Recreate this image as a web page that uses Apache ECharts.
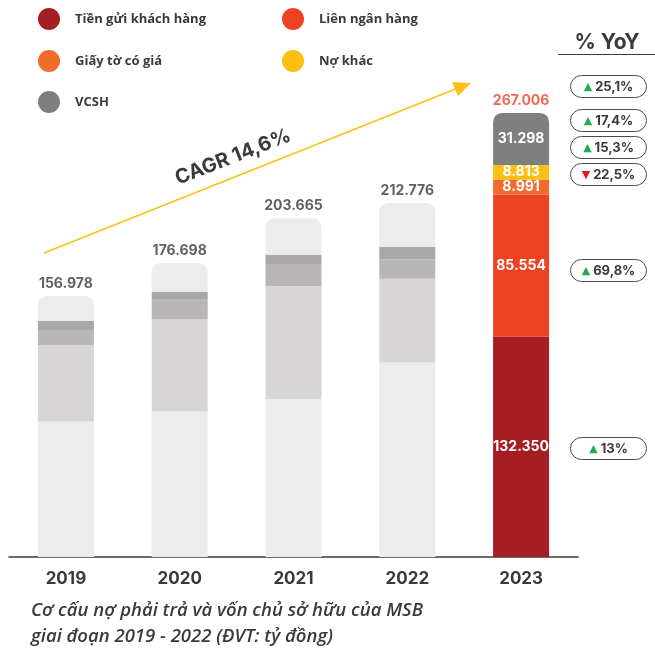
<!DOCTYPE html>
<html>
<head>
<meta charset="utf-8">
<script src="https://cdn.jsdelivr.net/npm/echarts@6/dist/echarts.min.js"></script>
<style>
html, body { margin: 0; padding: 0; background: #fff; }
#chart { width: 655px; height: 655px; }
</style>
</head>
<body>
<div id="chart"></div>
<script>
// du lieu (ty dong)
const years = ['2019', '2020', '2021', '2022', '2023'];
const tienGui = [81400, 87400, 95000, 116900, 132350];
const lienNganHang = [46100, 55700, 68000, 50400, 85554];
const giayTo = [9000, 12000, 13200, 11600, 8991];
const noKhac = [5600, 4400, 5400, 7600, 8813];
const vcsh = [14878, 17198, 22065, 26276, 31298];
const totals = [156978, 176698, 203665, 212776, 267006];
const yoy = [25.1, 17.4, 15.3, -22.5, 69.8, 13];
const cagrText = 'CAGR 14,6%';

const numFont = 'Inter';
const textFont = 'Open Sans';
const dark = '#3a3a3a';
const last = years.length - 1;

const fmt = v => String(v).replace(/\B(?=(\d{3})+(?!\d))/g, '.');
const fmtPct = v => String(Math.abs(v)).replace('.', ',') + '%';

const seriesDefs = [
    { name: 'Tiền gửi khách hàng', data: tienGui, color: '#a51e23', grey: '#ececec' },
    { name: 'Liên ngân hàng', data: lienNganHang, color: '#ee4323', grey: '#d7d5d6' },
    { name: 'Giấy tờ có giá', data: giayTo, color: '#f26b2b', grey: '#b8b6b6' },
    { name: 'Nợ khác', data: noKhac, color: '#fdbf12', grey: '#a9a8a7' },
    { name: 'VCSH', data: vcsh, color: '#7f7f7f', grey: '#ececec' },
];

// legend: 2 cot, 3 hang
const legendPos = [[38, 8], [282, 8], [38, 50], [282, 50], [38, 91]];

const chart = echarts.init(document.getElementById('chart'));

// vi tri khung % YoY
const yoyY = [86, 120, 147, 174, 270, 448];

const graphics = [
    // mui ten CAGR
    {
        type: 'line',
        shape: { x1: 44, y1: 253, x2: 458, y2: 88 },
        style: { stroke: '#fcc01a', lineWidth: 1.6 },
    },
    {
        type: 'polygon',
        shape: { points: [[452, 82], [471, 83], [458, 96]] },
        style: { fill: '#fcc01a' },
    },
    {
        type: 'text',
        x: 233,
        y: 157,
        rotation: (21.3 * Math.PI) / 180,
        style: {
            text: cagrText,
            fontFamily: numFont,
            fontWeight: 'bold',
            fontSize: 20,
            fill: dark,
            align: 'center',
            verticalAlign: 'middle',
        },
    },
    // tieu de % YoY
    {
        type: 'text',
        x: 607,
        y: 43,
        style: {
            text: '% YoY',
            fontFamily: numFont,
            fontWeight: 'bold',
            fontSize: 21,
            fill: dark,
            align: 'center',
            verticalAlign: 'middle',
        },
    },
    {
        type: 'line',
        shape: { x1: 558, y1: 54.5, x2: 655, y2: 54.5 },
        style: { stroke: dark, lineWidth: 1 },
    },
];

yoy.forEach((v, i) => {
    graphics.push({
        type: 'group',
        x: 570,
        y: yoyY[i] - 11,
        children: [
            {
                type: 'rect',
                shape: { x: 0.5, y: 0.5, width: 76, height: 22, r: 11 },
                style: { fill: '#fff', stroke: '#4a4a4a', lineWidth: 1 },
            },
            {
                type: 'text',
                x: 38.5,
                y: 12,
                style: {
                    text: `{t|${v >= 0 ? '▲' : '▼'}}{v|${fmtPct(v)}}`,
                    align: 'center',
                    verticalAlign: 'middle',
                    rich: {
                        t: {
                            fontFamily: 'DejaVu Sans',
                            fontSize: 11,
                            fill: v >= 0 ? '#1fae4b' : '#e3161d',
                            padding: [0, 3, 0, 0],
                        },
                        v: {
                            fontFamily: numFont,
                            fontWeight: 'bold',
                            fontSize: 13,
                            fill: dark,
                        },
                    },
                },
            },
        ],
    });
});

const option = {
    animation: false,
    backgroundColor: '#fff',
    title: {
        text: 'Cơ cấu nợ phải trả và vốn chủ sở hữu của MSB\ngiai đoạn 2019 - 2022 (ĐVT: tỷ đồng)',
        left: 31,
        top: 598,
        padding: 0,
        textStyle: {
            fontFamily: textFont,
            fontStyle: 'italic',
            fontWeight: 600,
            fontSize: 18.5,
            lineHeight: 26,
            color: dark,
        },
    },
    legend: seriesDefs.map((s, i) => ({
        data: [s.name],
        left: legendPos[i][0],
        top: legendPos[i][1],
        padding: 0,
        icon: 'circle',
        itemWidth: 22,
        itemHeight: 22,
        selectedMode: false,
        textStyle: {
            fontFamily: textFont,
            fontWeight: 'bold',
            fontSize: 13,
            color: dark,
            padding: [0, 0, 0, 10],
        },
    })),
    grid: {
        left: 9,
        width: 569,
        top: 58,
        height: 499,
    },
    xAxis: {
        type: 'category',
        data: years,
        axisLine: { lineStyle: { color: dark, width: 1.5 } },
        axisTick: { show: false },
        axisLabel: {
            margin: 13,
            fontFamily: numFont,
            fontWeight: 'bold',
            fontSize: 17,
            color: dark,
        },
    },
    yAxis: {
        type: 'value',
        min: 0,
        max: 300000,
        show: false,
        splitLine: { show: false },
    },
    series: [
        ...seriesDefs.map((s, k) => ({
            type: 'bar',
            name: s.name,
            stack: 'total',
            barWidth: 56,
            itemStyle: { color: s.color },
            label: {
                position: 'inside',
                color: '#fff',
                fontFamily: numFont,
                fontWeight: 'bold',
                fontSize: 14,
                formatter: p => fmt(p.value),
            },
            data: s.data.map((v, i) => ({
                value: v,
                itemStyle: {
                    color: i === last ? s.color : s.grey,
                    borderRadius: k === seriesDefs.length - 1 ? [9, 9, 0, 0] : 0,
                },
                label: { show: i === last },
            })),
        })),
        {
            type: 'scatter',
            name: 'Tổng',
            symbolSize: 0,
            silent: true,
            z: 5,
            label: {
                show: true,
                position: 'top',
                distance: 5,
                fontFamily: numFont,
                fontWeight: 'bold',
                fontSize: 14,
                formatter: p => fmt(p.value),
            },
            data: totals.map((v, i) => ({
                value: v,
                label: { color: i === last ? '#ee4323' : dark },
            })),
        },
    ],
    graphic: graphics,
};

chart.setOption(option);
</script>
</body>
</html>
